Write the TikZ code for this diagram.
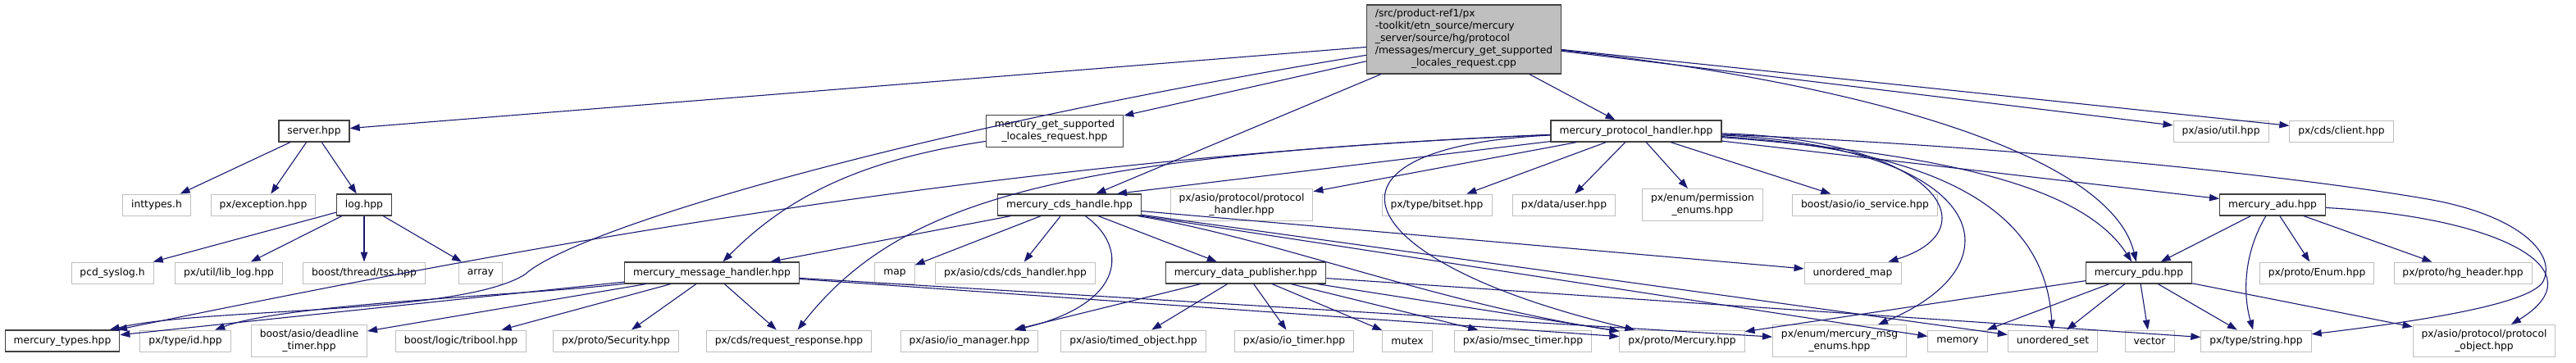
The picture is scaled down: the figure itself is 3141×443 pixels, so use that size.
\documentclass[tikz,border=0pt]{standalone}
\usepackage{fontspec}
\setmainfont{DejaVu Sans}
\usepackage{tikz}
\usetikzlibrary{arrows.meta}
\usepackage{xcolor}
\definecolor{edgeblue}{HTML}{191970}
\tikzset{>=Triangle}

\begin{document}
\begin{tikzpicture}[x=1pt,y=-1pt,font=\fontsize{12.3}{15}\selectfont]

         %%%%%%%%%%%%%%%%%%%%%%%%%%%%%%%%%%%%%%%%%%%%%%%%%%%%%%%%%%%%%%%%%%%%%%
         % Stile
         %%%%%%%%%%%%%%%%%%%%%%%%%%%%%%%%%%%%%%%%%%%%%%%%%%%%%%%%%%%%%%%%%%%%%%
         \tikzset{
            datei/.style={
            draw=black!25, line width=0.9pt, fill=white,
            inner xsep=10.5pt, inner ysep=6pt,
            minimum height=26pt, align=center
            },
            doku/.style={
            datei, draw=black!75, line width=1.2pt
            },
            incl/.style={
            draw=edgeblue, line width=1.1pt,
            -{Triangle[length=12pt,width=8.5pt]}
            }
         }

         % Rahmen (Bildgroesse)
         \useasboundingbox (0,0) rectangle (3141,443);

         %%%%%%%%%%%%%%%%%%%%%%%%%%%%%%%%%%%%%%%%%%%%%%%%%%%%%%%%%%%%%%%%%%%%%%
         % Knoten, Zeile fuer Zeile
         %%%%%%%%%%%%%%%%%%%%%%%%%%%%%%%%%%%%%%%%%%%%%%%%%%%%%%%%%%%%%%%%%%%%%%
         \node[doku,fill=black!25,inner ysep=4.5pt] (main) at (1785,48)
         {\begin{tabular}{@{}l@{}}
          /src/product-ref1/px\\
          -toolkit/etn\_source/mercury\\
          \_server/source/hg/protocol\\
          /messages/mercury\_get\_supported\\
          \multicolumn{1}{@{}c@{}}{\_locales\_request.cpp}
          \end{tabular}};

         \node[doku]  (server)    at (383,160)  {server.hpp};
         \node[doku]  (locales)   at (1286,160) {mercury\_get\_supported\\\_locales\_request.hpp};
         \node[doku]  (protoh)    at (1995,160) {mercury\_protocol\_handler.hpp};
         \node[datei] (asioutil)  at (2708,160) {px/asio/util.hpp};
         \node[datei] (cdsclient) at (2855,160) {px/cds/client.hpp};

         \node[datei] (inttypes)  at (191,250)  {inttypes.h};
         \node[datei] (exception) at (321,250)  {px/exception.hpp};
         \node[doku]  (log)       at (444,250)  {log.hpp};
         \node[doku]  (cds)       at (1304,250) {mercury\_cds\_handle.hpp};
         \node[datei] (asioproto) at (1514,250) {px/asio/protocol/protocol\\\_handler.hpp};
         \node[datei] (bitset)    at (1752,250) {px/type/bitset.hpp};
         \node[datei] (user)      at (1907,250) {px/data/user.hpp};
         \node[datei] (perm)      at (2076,250) {px/enum/permission\\\_enums.hpp};
         \node[datei] (ioservice) at (2274,250) {boost/asio/io\_service.hpp};
         \node[doku]  (adu)       at (2771,250) {mercury\_adu.hpp};

         \node[datei] (syslog)    at (137,333)  {pcd\_syslog.h};
         \node[datei] (liblog)    at (279,333)  {px/util/lib\_log.hpp};
         \node[datei] (tss)       at (444,333)  {boost/thread/tss.hpp};
         \node[datei] (array)     at (586,333)  {array};
         \node[doku]  (msgh)      at (868,333)  {mercury\_message\_handler.hpp};
         \node[datei] (map)       at (1091,333) {map};
         \node[datei] (cdsh)      at (1238,333) {px/asio/cds/cds\_handler.hpp};
         \node[doku]  (publ)      at (1519,333) {mercury\_data\_publisher.hpp};
         \node[datei] (umap)      at (2259,333) {unordered\_map};
         \node[doku]  (pdu)       at (2608,333) {mercury\_pdu.hpp};
         \node[datei] (enum)      at (2825,333) {px/proto/Enum.hpp};
         \node[datei] (hghead)    at (3003,333) {px/proto/hg\_header.hpp};

         \node[doku]  (types)     at (76,416)   {mercury\_types.hpp};
         \node[datei] (typeid)    at (226,416)  {px/type/id.hpp};
         \node[datei] (deadline)  at (377,416)  {boost/asio/deadline\\\_timer.hpp};
         \node[datei] (tribool)   at (562,416)  {boost/logic/tribool.hpp};
         \node[datei] (security)  at (751,416)  {px/proto/Security.hpp};
         \node[datei] (reqresp)   at (962,416)  {px/cds/request\_response.hpp};
         \node[datei] (iomgr)     at (1182,416) {px/asio/io\_manager.hpp};
         \node[datei] (timed)     at (1382,416) {px/asio/timed\_object.hpp};
         \node[datei] (iotimer)   at (1578,416) {px/asio/io\_timer.hpp};
         \node[datei] (mutex)     at (1716,416) {mutex};
         \node[datei] (msec)      at (1857,416) {px/asio/msec\_timer.hpp};
         \node[datei] (mercury)   at (2051,416) {px/proto/Mercury.hpp};
         \node[datei] (msgenums)  at (2243,416) {px/enum/mercury\_msg\\\_enums.hpp};
         \node[datei] (memory)    at (2387,416) {memory};
         \node[datei] (uset)      at (2503,416) {unordered\_set};
         \node[datei] (vector)    at (2621,416) {vector};
         \node[datei] (string)    at (2751,416) {px/type/string.hpp};
         \node[datei] (protobj)   at (3029,416) {px/asio/protocol/protocol\\\_object.hpp};

         %%%%%%%%%%%%%%%%%%%%%%%%%%%%%%%%%%%%%%%%%%%%%%%%%%%%%%%%%%%%%%%%%%%%%%
         % Kanten der .cpp-Datei
         %%%%%%%%%%%%%%%%%%%%%%%%%%%%%%%%%%%%%%%%%%%%%%%%%%%%%%%%%%%%%%%%%%%%%%
         \draw[incl] (main) -- (server);
         \draw[incl] (main) -- (locales);
         \draw[incl] (main) -- (cds);
         \draw[incl] (main) -- (protoh);
         \draw[incl] (main) -- (asioutil);
         \draw[incl] (main) -- (cdsclient);
         \draw[incl] (main) .. controls (1100,160) and (700,280) .. (640,335)
                            .. controls (560,385) and (250,375) .. (types);
         \draw[incl] (main) .. controls (2300,105) and (2575,195) .. (pdu);

         % server.hpp und log.hpp
         \draw[incl] (server) -- (inttypes);
         \draw[incl] (server) -- (exception);
         \draw[incl] (server) -- (log);
         \draw[incl] (log) -- (syslog);
         \draw[incl] (log) -- (liblog);
         \draw[incl] (log) -- (tss);
         \draw[incl] (log) -- (array);

         \draw[incl] (locales) .. controls (1050,195) and (960,240) .. (msgh);

         %%%%%%%%%%%%%%%%%%%%%%%%%%%%%%%%%%%%%%%%%%%%%%%%%%%%%%%%%%%%%%%%%%%%%%
         % mercury_protocol_handler.hpp
         %%%%%%%%%%%%%%%%%%%%%%%%%%%%%%%%%%%%%%%%%%%%%%%%%%%%%%%%%%%%%%%%%%%%%%
         \draw[incl] (protoh) .. controls (1150,195) and (500,330) .. (types);
         \draw[incl] (protoh) .. controls (1300,190) and (1100,240) .. (reqresp);
         \draw[incl] (protoh) -- ([xshift=-30pt]cds.north east);
         \draw[incl] (protoh) -- (asioproto);
         \draw[incl] (protoh) .. controls (1580,180) and (1640,320) .. (mercury);
         \draw[incl] (protoh) -- (bitset);
         \draw[incl] (protoh) -- (user);
         \draw[incl] (protoh) -- (perm);
         \draw[incl] (protoh) -- (ioservice);
         \draw[incl] (protoh) .. controls (2360,170) and (2430,280) .. (umap);
         \draw[incl] (protoh) .. controls (2420,180) and (2470,320) .. (msgenums);
         \draw[incl] (protoh) .. controls (2390,185) and (2495,270) .. (uset);
         \draw[incl] (protoh) .. controls (2400,190) and (2545,235) .. (pdu);
         \draw[incl] (protoh) -- (adu);
         \draw[incl] (protoh) .. controls (2450,178) and (2800,215) .. (2960,243)
                              .. controls (3070,262) and (3120,310) .. (3100,345)
                              .. controls (3080,372) and (2950,392) .. (string);

         %%%%%%%%%%%%%%%%%%%%%%%%%%%%%%%%%%%%%%%%%%%%%%%%%%%%%%%%%%%%%%%%%%%%%%
         % mercury_cds_handle.hpp
         %%%%%%%%%%%%%%%%%%%%%%%%%%%%%%%%%%%%%%%%%%%%%%%%%%%%%%%%%%%%%%%%%%%%%%
         \draw[incl] (cds) -- (msgh);
         \draw[incl] (cds) -- (map);
         \draw[incl] (cds) -- (cdsh);
         \draw[incl] (cds) .. controls (1375,300) and (1375,370) .. (iomgr);
         \draw[incl] (cds) -- (publ);
         \draw[incl] (cds) -- (umap);
         \draw[incl] (cds) -- (memory);
         \draw[incl] (cds) -- (uset);
         \draw[incl] (cds) .. controls (1550,290) and (1750,370) .. (mercury);

         %%%%%%%%%%%%%%%%%%%%%%%%%%%%%%%%%%%%%%%%%%%%%%%%%%%%%%%%%%%%%%%%%%%%%%
         % mercury_message_handler.hpp
         %%%%%%%%%%%%%%%%%%%%%%%%%%%%%%%%%%%%%%%%%%%%%%%%%%%%%%%%%%%%%%%%%%%%%%
         \draw[incl] (msgh) -- (types);
         \draw[incl] (msgh) .. controls (650,360) and (350,370) .. (typeid);
         \draw[incl] (msgh) -- (deadline);
         \draw[incl] (msgh) -- (tribool);
         \draw[incl] (msgh) -- (security);
         \draw[incl] (msgh) -- (reqresp);
         \draw[incl] (msgh) -- (mercury);
         \draw[incl] (msgh) -- (msgenums);

         % mercury_data_publisher.hpp
         \draw[incl] (publ) -- (iomgr);
         \draw[incl] (publ) -- (timed);
         \draw[incl] (publ) -- (iotimer);
         \draw[incl] (publ) -- (mutex);
         \draw[incl] (publ) -- (msec);
         \draw[incl] (publ) -- (mercury);
         \draw[incl] (publ) -- (string);

         %%%%%%%%%%%%%%%%%%%%%%%%%%%%%%%%%%%%%%%%%%%%%%%%%%%%%%%%%%%%%%%%%%%%%%
         % mercury_adu.hpp und mercury_pdu.hpp
         %%%%%%%%%%%%%%%%%%%%%%%%%%%%%%%%%%%%%%%%%%%%%%%%%%%%%%%%%%%%%%%%%%%%%%
         \draw[incl] (adu) -- (pdu);
         \draw[incl] (adu) .. controls (2735,310) and (2735,360) .. (string);
         \draw[incl] (adu) -- (enum);
         \draw[incl] (adu) -- (hghead);
         \draw[incl] (adu) .. controls (3050,265) and (3170,330) .. (protobj);

         \draw[incl] (pdu) -- (mercury);
         \draw[incl] (pdu) -- (memory);
         \draw[incl] (pdu) -- (uset);
         \draw[incl] (pdu) -- (vector);
         \draw[incl] (pdu) -- (string);
         \draw[incl] (pdu) -- (protobj);

\end{tikzpicture}
\end{document}
